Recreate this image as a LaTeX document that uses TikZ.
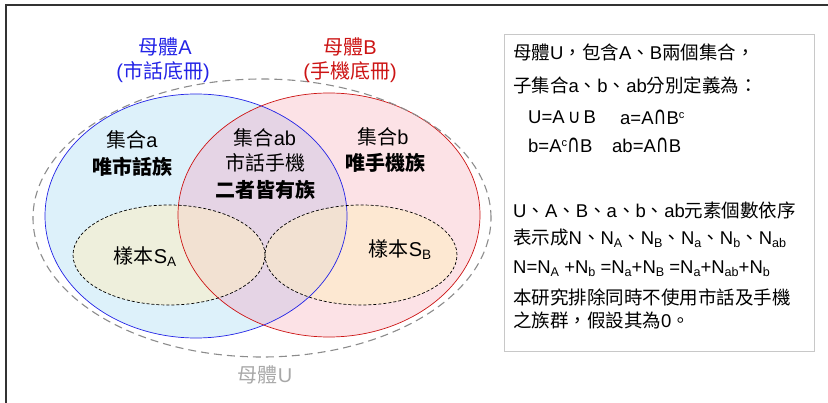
\documentclass[tikz,border=0pt]{standalone}
\usepackage{fontspec}
\setmainfont{Liberation Sans}
\newfontfamily\cj{Noto Sans CJK TC}
\newfontfamily\dv{DejaVu Sans}
\usetikzlibrary{shapes.geometric}
\definecolor{popA}{HTML}{2323E6}
\definecolor{popB}{HTML}{CC1414}
\definecolor{fillA}{HTML}{DDF1FA}
\definecolor{fillB}{HTML}{FCE2E6}
\definecolor{fillAB}{HTML}{E5D4E5}
\definecolor{samp}{HTML}{FFEFC0}
\definecolor{ugray}{HTML}{8C8C8C}
\definecolor{utext}{HTML}{A8A8A8}
\definecolor{boxgray}{HTML}{C8C8C8}
\newcommand\mysub[1]{\raisebox{-0.3ex}{\scalebox{0.68}{#1}}}
\newcommand\mysup[1]{\raisebox{0.6ex}{\scalebox{0.6}{#1}}}
\newcommand\mycup{\,{\dv\scalebox{0.95}[1.05]{∪}}\,}
\newcommand\mycap{{\dv\scalebox{0.95}[1.35]{∩}}}
\begin{document}
\begin{tikzpicture}[x=1pt,y=-1pt,
  big/.style={inner sep=0pt,font=\fontsize{20}{22}\selectfont},
  bigb/.style={big,font=\fontsize{20}{22}\selectfont\bfseries},
  boxtxt/.style={inner sep=0pt,anchor=west,font=\fontsize{18.5}{20}\selectfont},
  sampline/.style={draw=black,line width=0.7pt,dash pattern=on 3pt off 2pt},
]
\useasboundingbox (0,0) rectangle (828,403);
% frame
\draw[line width=2pt,black!80] (6,410) -- (6,5) -- (835,5);
% centres
\coordinate (cA) at (196,216);
\coordinate (cB) at (329,215);
\coordinate (cU) at (262,218);
\coordinate (cSA) at (169,255);
\coordinate (cSB) at (361,255);
% fills
\fill[fillA] (cA) ellipse [x radius=151pt,y radius=122pt];
\fill[fillB] (cB) ellipse [x radius=151pt,y radius=122pt];
\begin{scope}
  \clip (cA) ellipse [x radius=151pt,y radius=122pt];
  \fill[fillAB] (cB) ellipse [x radius=151pt,y radius=122pt];
\end{scope}
\fill[samp,fill opacity=0.5] (cSA) ellipse [x radius=96pt,y radius=50pt];
\fill[samp,fill opacity=0.5] (cSB) ellipse [x radius=96pt,y radius=50pt];
% outlines
\draw[popA,line width=0.7pt] (cA) ellipse [x radius=151pt,y radius=122pt];
\draw[popB,line width=0.7pt] (cB) ellipse [x radius=151pt,y radius=122pt];
\draw[sampline] (cSA) ellipse [x radius=96pt,y radius=50pt];
\draw[sampline] (cSB) ellipse [x radius=96pt,y radius=50pt];
\draw[ugray,line width=1.1pt,dash pattern=on 8pt off 5pt] (cU) ellipse [x radius=229pt,y radius=139pt];
% labels
\node[big,text=popA] (tA1) at (165,47) {{\cj 母體}A};
\node[big,text=popA] (tA2) at (163,72) {({\cj 市話底冊})};
\node[big,text=popB] (tB1) at (350,47) {{\cj 母體}B};
\node[big,text=popB] (tB2) at (350,72) {({\cj 手機底冊})};
\node[big] (a1) at (132,140) {{\cj 集合}a};
\node[bigb] (a2) at (132,167) {{\cj 唯市話族}};
\node[big] (ab1) at (265,138) {{\cj 集合}ab};
\node[big] (ab2) at (265,163) {{\cj 市話手機}};
\node[bigb] (ab3) at (265,190) {{\cj 二者皆有族}};
\node[big] (b1) at (383,137) {{\cj 集合}b};
\node[bigb] (b2) at (385,163) {{\cj 唯手機族}};
\node[big] (sa) at (145,257) {{\cj 樣本}S\mysub{A}};
\node[big] (sb) at (400,250) {{\cj 樣本}S\mysub{B}};
\node[big,text=utext] (u) at (265,375) {{\cj 母體}U};
% right box
\node[draw=boxgray,line width=0.8pt,anchor=north west,minimum width=310pt,minimum height=317pt,inner sep=0pt] (box) at (504,34) {};
\node[boxtxt] (l1) at (513,52) {{\cj 母體}U{\cj ，包含}A{\cj 、}B{\cj 兩個集合，}};
\node[boxtxt] (l2) at (513,85) {{\cj 子集合}a{\cj 、}b{\cj 、}ab{\cj 分別定義為：}};
\node[boxtxt] (l3a) at (528,117) {U=A\mycup B};
\node[boxtxt] (l3b) at (620,117) {a=A\mycap B\mysup{c}};
\node[boxtxt] (l4a) at (528,145) {b=A\mysup{c}\mycap B};
\node[boxtxt] (l4b) at (612,145) {ab=A\mycap B};
\node[boxtxt] (l5) at (513,210) {U{\cj 、}A{\cj 、}B{\cj 、}a{\cj 、}b{\cj 、}ab{\cj 元素個數依序}};
\node[boxtxt] (l6) at (513,238) {{\cj 表示成}N{\cj 、}N\mysub{A}{\cj 、}N\mysub{B}{\cj 、}N\mysub{a}{\cj 、}N\mysub{b}{\cj 、}N\mysub{ab}};
\node[boxtxt] (l7) at (513,269) {N=N\mysub{A} +N\mysub{b} =N\mysub{a}+N\mysub{B} =N\mysub{a}+N\mysub{ab}+N\mysub{b}};
\node[boxtxt] (l8) at (513,297) {{\cj 本研究排除同時不使用市話及手機}};
\node[boxtxt] (l9) at (513,320) {{\cj 之族群，假設其為}0{\cj 。}};
\end{tikzpicture}
\end{document}
